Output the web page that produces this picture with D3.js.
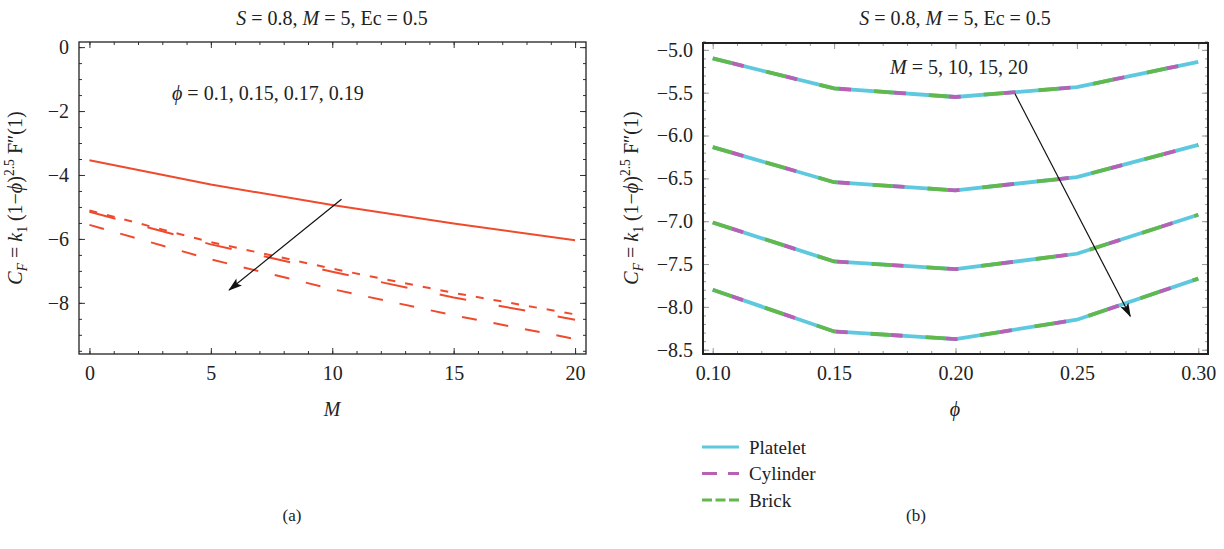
<!DOCTYPE html>
<html>
<head>
<meta charset="utf-8">
<script src="https://cdn.jsdelivr.net/npm/d3@7"></script>
<style>
  body { margin: 0; background: #fff; }
  svg { display: block; }
  text { font-family: "Liberation Serif", "Times New Roman", serif; fill: #222; }
</style>
</head>
<body>
<div id="chart"></div>
<script>
// ---- data ----
// panel (a): skin friction vs M, one line per phi
let mValues = [0, 5, 10, 15, 20];
let phiNames = ["0.1", "0.15", "0.17", "0.19"];
let cfPhi010 = [-3.54, -4.30, -4.94, -5.52, -6.04];
let cfPhi015 = [-5.11, -6.10, -6.93, -7.69, -8.36];
let cfPhi017 = [-5.15, -6.17, -7.03, -7.83, -8.53];
let cfPhi019 = [-5.56, -6.64, -7.57, -8.39, -9.13];

// panel (b): skin friction vs phi, one curve per M (the 3 shapes coincide)
let phiValues = [0.10, 0.15, 0.20, 0.25, 0.30];
let mLevels = [5, 10, 15, 20];
let cfM5 = [-5.10, -5.45, -5.55, -5.435, -5.14];
let cfM10 = [-6.135, -6.545, -6.64, -6.485, -6.11];
let cfM15 = [-7.015, -7.47, -7.56, -7.38, -6.925];
let cfM20 = [-7.80, -8.287, -8.376, -8.15, -7.67];
let shapeNames = ["Platelet", "Cylinder", "Brick"];

// ticks
let aXMajor = [0, 5, 10, 15, 20];
let aXMinor = d3.range(0, 21, 1);
let aYMajor = [0, -2, -4, -6, -8];
let aYMinor = d3.range(0, -9.6, -0.5);
let bXMajor = [0.10, 0.15, 0.20, 0.25, 0.30];
let bXMinor = d3.range(10, 31).map(d => d / 100);
let bYMajor = [-5.0, -5.5, -6.0, -6.5, -7.0, -7.5, -8.0, -8.5];
let bYMinor = d3.range(-49, -86, -1).map(d => d / 10);

let w = 1224;
let h = 549;
let fs = 20;
let minus = s => s.replace("-", "\u2212");

let svg = d3.select("#chart").append("svg")
  .attr("width", w)
  .attr("height", h);
svg.append("rect").attr("width", w).attr("height", h).attr("fill", "#fff");

let defs = svg.append("defs");
defs.append("marker")
    .attr("id", "head")
    .attr("markerUnits", "userSpaceOnUse")
    .attr("viewBox", "0 -5 14 10")
    .attr("refX", 13)
    .attr("refY", 0)
    .attr("markerWidth", 15)
    .attr("markerHeight", 10)
    .attr("orient", "auto")
  .append("path")
    .attr("d", "M0,-4.5L14,0L0,4.5L3,0Z")
    .attr("fill", "#111");

// draws mirrored inward ticks on four sides + frame
function drawFrame(g, x, y, o){
  let [xl, xr] = x.range();
  let [yb, yt] = y.range();

  function styleAxis(sel){
    sel.select(".domain").remove();
    sel.selectAll("line").attr("stroke", o.tickColor).attr("stroke-width", o.tickWidth);
    sel.attr("font-family", null).attr("font-size", fs);
    sel.selectAll("text").attr("fill", "#222");
  }

  g.append("g").attr("transform", `translate(0,${yb})`)
    .call(d3.axisBottom(x).tickValues(o.xMinor).tickSize(-3).tickFormat("")).call(styleAxis);
  g.append("g").attr("transform", `translate(0,${yb})`)
    .call(d3.axisBottom(x).tickValues(o.xMajor).tickSize(-6).tickPadding(12).tickFormat(o.xFmt)).call(styleAxis);
  g.append("g").attr("transform", `translate(0,${yt})`)
    .call(d3.axisTop(x).tickValues(o.xMinor).tickSize(-3).tickFormat("")).call(styleAxis);
  g.append("g").attr("transform", `translate(0,${yt})`)
    .call(d3.axisTop(x).tickValues(o.xMajor).tickSize(-6).tickFormat("")).call(styleAxis);

  g.append("g").attr("transform", `translate(${xl},0)`)
    .call(d3.axisLeft(y).tickValues(o.yMinor).tickSize(-3).tickFormat("")).call(styleAxis);
  g.append("g").attr("transform", `translate(${xl},0)`)
    .call(d3.axisLeft(y).tickValues(o.yMajor).tickSize(-6).tickPadding(10).tickFormat(o.yFmt)).call(styleAxis);
  g.append("g").attr("transform", `translate(${xr},0)`)
    .call(d3.axisRight(y).tickValues(o.yMinor).tickSize(-3).tickFormat("")).call(styleAxis);
  g.append("g").attr("transform", `translate(${xr},0)`)
    .call(d3.axisRight(y).tickValues(o.yMajor).tickSize(-6).tickFormat("")).call(styleAxis);

  g.append("rect")
    .attr("x", xl).attr("y", yt)
    .attr("width", xr - xl).attr("height", yb - yt)
    .attr("fill", "none")
    .attr("stroke", "#222")
    .attr("stroke-width", o.frameWidth);
}

// text built from pieces: [string, italic?, shift]
function richText(sel, parts){
  let prev = 0;
  parts.forEach(p => {
    let t = sel.append("tspan").text(p[0]);
    if(p[1]) t.attr("font-style", "italic");
    let shift = p[2] || 0;
    if(shift != prev) t.attr("dy", shift - prev);
    if(shift != 0) t.attr("font-size", fs * 0.68);
    prev = shift;
  });
}

let titleParts = [["S", true], [" = 0.8, "], ["M", true], [" = 5, Ec = 0.5"]];
let yLabelParts = [["C", true], ["F", true, 5], [" = "], ["k", true], ["1", false, 5], [" (1\u2212"], ["\u03D5", true], [")"], ["2.5", false, -8], [" F\u2033(1)"]];

function yLabel(xPos, yPos){
  let t = svg.append("text")
    .attr("transform", `translate(${xPos},${yPos}) rotate(-90)`)
    .attr("text-anchor", "middle")
    .attr("font-size", fs);
  richText(t, yLabelParts);
}

// ================= panel (a) =================
let xA = d3.scaleLinear().domain([-0.43, 20.45]).range([79, 586]);
let yA = d3.scaleLinear().domain([-9.6, 0.16]).range([354, 42]);
let gA = svg.append("g");

let seriesA = [
  {name: phiNames[0], values: cfPhi010, dash: null},
  {name: phiNames[1], values: cfPhi015, dash: "8,10"},
  {name: phiNames[2], values: cfPhi017, dash: "27,33"},
  {name: phiNames[3], values: cfPhi019, dash: "15,17"}
];
let lineA = d3.line()
  .x((d, i) => xA(mValues[i]))
  .y(d => yA(d));

gA.selectAll(".lineA").data(seriesA).enter()
  .append("path")
    .attr("class", "lineA")
    .attr("d", d => lineA(d.values))
    .attr("fill", "none")
    .attr("stroke", "#f04a2d")
    .attr("stroke-width", 2)
    .attr("stroke-dasharray", d => d.dash);

drawFrame(gA, xA, yA, {
  xMajor: aXMajor, xMinor: aXMinor, yMajor: aYMajor, yMinor: aYMinor,
  xFmt: d3.format("d"), yFmt: d => minus(String(d)),
  tickColor: "#333", tickWidth: 1, frameWidth: 1.3
});

gA.append("line")
  .attr("x1", xA(10.38)).attr("y1", yA(-4.76))
  .attr("x2", xA(5.75)).attr("y2", yA(-7.60))
  .attr("stroke", "#111")
  .attr("stroke-width", 1.2)
  .attr("marker-end", "url(#head)");

let annA = svg.append("text")
  .attr("x", 172).attr("y", 100)
  .attr("font-size", fs);
richText(annA, [["\u03D5", true], [" = " + phiNames.join(", ")]]);

let titleA = svg.append("text")
  .attr("x", 332).attr("y", 25)
  .attr("text-anchor", "middle")
  .attr("font-size", fs);
richText(titleA, titleParts);

yLabel(22, 198);

svg.append("text")
  .attr("x", 332).attr("y", 416)
  .attr("text-anchor", "middle")
  .attr("font-size", fs)
  .attr("font-style", "italic")
  .text("M");

svg.append("text")
  .attr("x", 292).attr("y", 521)
  .attr("text-anchor", "middle")
  .attr("font-size", 17)
  .text("(a)");

// ================= panel (b) =================
let xB = d3.scaleLinear().domain([0.096, 0.304]).range([703, 1208]);
let yB = d3.scaleLinear().domain([-8.55, -4.92]).range([354, 43]);
let gB = svg.append("g");

let curvesB = [cfM5, cfM10, cfM15, cfM20];
let shapeStyles = [
  {name: shapeNames[0], color: "#5ec8de", dash: null, offset: 0, legendDash: null},
  {name: shapeNames[1], color: "#b860b4", dash: "12,43", offset: -20, legendDash: "15,11"},
  {name: shapeNames[2], color: "#62b84c", dash: "20,35", offset: 0, legendDash: "10,3.5"}
];
let lineB = d3.line()
  .x((d, i) => xB(phiValues[i]))
  .y(d => yB(d));

shapeStyles.forEach((s, k) => {
  gB.selectAll(".shape" + k).data(curvesB).enter()
    .append("path")
      .attr("class", "shape" + k)
      .attr("d", d => lineB(d))
      .attr("fill", "none")
      .attr("stroke", s.color)
      .attr("stroke-width", 3.8)
      .attr("stroke-dashoffset", s.offset)
      .attr("stroke-dasharray", s.dash);
});

drawFrame(gB, xB, yB, {
  xMajor: bXMajor, xMinor: bXMinor, yMajor: bYMajor, yMinor: bYMinor,
  xFmt: d3.format(".2f"), yFmt: d => minus(d3.format(".1f")(d)),
  tickColor: "#999", tickWidth: 1, frameWidth: 2
});

gB.append("line")
  .attr("x1", xB(0.2245)).attr("y1", yB(-5.513))
  .attr("x2", xB(0.272)).attr("y2", yB(-8.11))
  .attr("stroke", "#111")
  .attr("stroke-width", 1.2)
  .attr("marker-end", "url(#head)");

let annB = svg.append("text")
  .attr("x", 890).attr("y", 74)
  .attr("font-size", fs);
richText(annB, [["M", true], [" = " + mLevels.join(", ")]]);

let titleB = svg.append("text")
  .attr("x", 955).attr("y", 25)
  .attr("text-anchor", "middle")
  .attr("font-size", fs);
richText(titleB, titleParts);

yLabel(638, 198);

svg.append("text")
  .attr("x", 955).attr("y", 416)
  .attr("text-anchor", "middle")
  .attr("font-size", fs)
  .attr("font-style", "italic")
  .text("\u03D5");

svg.append("text")
  .attr("x", 916).attr("y", 521)
  .attr("text-anchor", "middle")
  .attr("font-size", 17)
  .text("(b)");

// legend
let legend = svg.append("g").attr("transform", "translate(702,447)");
let rows = legend.selectAll(".row").data(shapeStyles).enter()
  .append("g")
    .attr("class", "row")
    .attr("transform", (d, i) => `translate(0,${i * 26.5})`);
rows.append("line")
  .attr("x1", 0).attr("x2", 37)
  .attr("stroke", d => d.color)
  .attr("stroke-width", 3)
  .attr("stroke-dasharray", d => d.legendDash);
rows.append("text")
  .attr("x", 47).attr("y", 6.5)
  .attr("font-size", 19)
  .text(d => d.name);
</script>
</body>
</html>
